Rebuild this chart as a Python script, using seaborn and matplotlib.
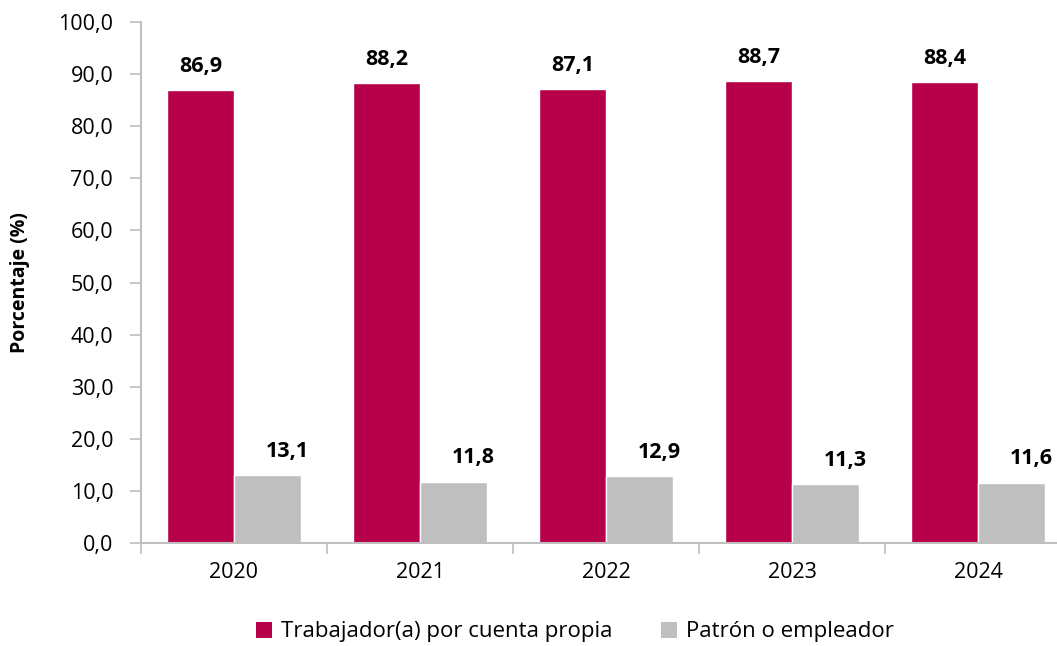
import pandas as pd
import seaborn as sns
import matplotlib.pyplot as plt
from matplotlib.patches import Patch

years = ["2020", "2021", "2022", "2023", "2024"]
cuenta_propia = [86.9, 88.2, 87.1, 88.7, 88.4]
patron = [13.1, 11.8, 12.9, 11.3, 11.6]
series_names = ["Trabajador(a) por cuenta propia", "Patrón o empleador"]
colors = ["#B7004A", "#BFBFBF"]

df = pd.DataFrame({
    "year": years * 2,
    "value": cuenta_propia + patron,
    "serie": [series_names[0]] * len(years) + [series_names[1]] * len(years),
})

sns.set_style("white")
plt.rcParams['font.family'] = ['Open Sans', 'DejaVu Sans']
plt.rcParams['text.color'] = 'black'
plt.rcParams['axes.labelcolor'] = 'black'
plt.rcParams['xtick.labelcolor'] = 'black'
plt.rcParams['ytick.labelcolor'] = 'black'

fig = plt.figure(figsize=(10.57, 6.46), dpi=100)
ax = fig.add_axes([141 / 1057, 1 - 543 / 646, 930 / 1057, 521 / 646])

sns.barplot(data=df, x="year", y="value", hue="serie", palette=colors,
            width=0.72, saturation=1, legend=False, ax=ax)

ax.set_ylim(0, 100)
ax.set_xlim(-0.5, len(years) - 0.5)
ax.set_yticks(range(0, 101, 10))
ax.set_yticklabels([f"{v:.1f}".replace(".", ",") for v in range(0, 101, 10)], fontsize=15.5)
ax.tick_params(axis="y", length=8, width=1.2, color="#BFBFBF", pad=12, left=True)
ax.tick_params(axis="x", which="major", length=0, labelsize=15.5, pad=14)
ax.set_xticks([i - 0.5 for i in range(len(years) + 1)], minor=True)
ax.tick_params(axis="x", which="minor", length=8, width=1.2, color="#BFBFBF", bottom=True)

for side in ["top", "right"]:
    ax.spines[side].set_visible(False)
for side in ["left", "bottom"]:
    ax.spines[side].set_color("#BFBFBF")
    ax.spines[side].set_linewidth(1.5)

ax.set_xlabel("")
ax.set_ylabel("Porcentaje (%)", fontsize=14, fontweight="bold")
ax.yaxis.set_label_coords(-0.119, 0.5)

for i, container in enumerate(ax.containers):
    dx = 0 if i == 0 else 14
    for bar in container:
        h = bar.get_height()
        ax.annotate(f"{h:.1f}".replace(".", ","),
                    (bar.get_x() + bar.get_width() / 2, h),
                    xytext=(dx, 17), textcoords="offset points",
                    ha="center", va="center", fontsize=15.5, fontweight="bold")

handles = [Patch(facecolor=c, edgecolor="none") for c in colors]
fig.legend(handles, series_names, loc="center", bbox_to_anchor=(575 / 1057, 1 - 632 / 646),
           ncol=2, frameon=False, fontsize=16, handlelength=0.7, handleheight=0.7,
           handletextpad=0.4, columnspacing=2.2)

fig.savefig("out.png", dpi=100)
